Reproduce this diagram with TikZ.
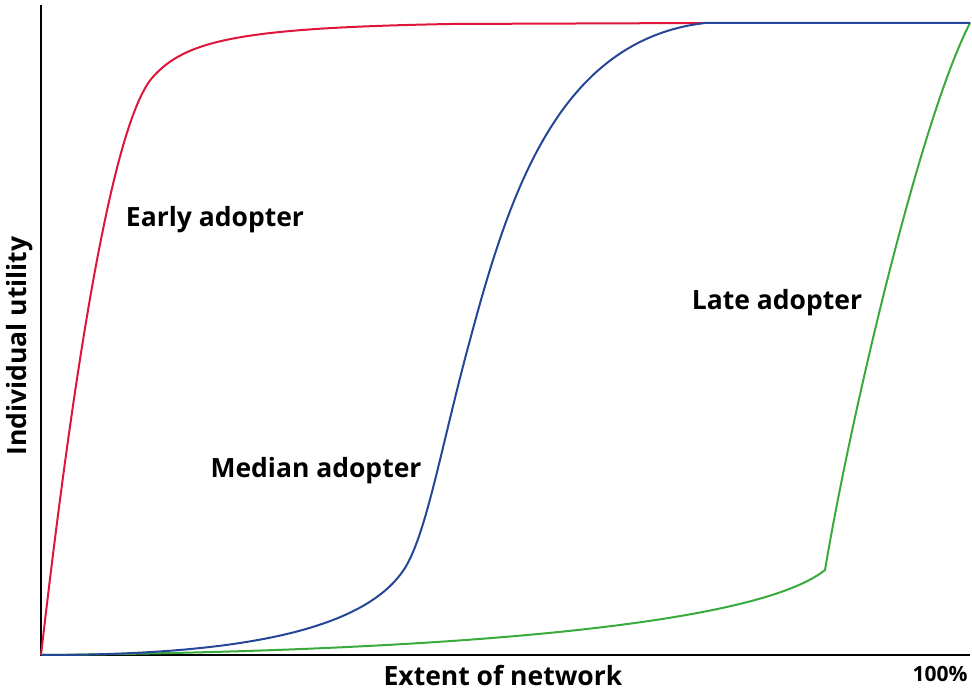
\documentclass[tikz,border=0pt]{standalone}
\usepackage{fontspec}
\setmainfont{Open Sans}
\usepackage{tikz}
\usetikzlibrary{positioning}
\definecolor{earlyred}{RGB}{222,22,58}
\definecolor{medblue}{RGB}{38,70,152}
\definecolor{lategreen}{RGB}{58,170,60}

\begin{document}
\begin{tikzpicture}[x=1pt, y=1pt,
	lbl/.style={font=\bfseries\fontsize{26.5}{30}\selectfont, inner sep=0pt},
	curve/.style={line width=2pt}]
				\useasboundingbox (0,0) rectangle (972,691);
				\coordinate (o) at (41,36);
				\coordinate (ytop) at (41,686);
				\coordinate (xend) at (970,36);
				% axes
				\draw [line width=2.5pt] (ytop) -- (o) -- (xend);
				% curves
				\draw [curve] [draw=earlyred] (o) .. controls (68,271) and (108,561) .. (152,613)
					.. controls (185,651) and (240,663) .. (450,667) -- (705,668);
				\draw [curve] [draw=lategreen] (o) .. controls (400,39) and (750,61) .. (825,121)
					.. controls (850,271) and (920,571) .. (970,668);
				\draw [curve] [draw=medblue] (o) .. controls (200,36) and (350,51) .. (400,116)
					.. controls (425,146) and (440,241) .. (470,351)
					.. controls (510,501) and (560,651) .. (705,668) -- (970,668);
				% labels
				\node [lbl] (early) at (215,471) {Early adopter};
				\node [lbl] (median) at (316,220) {Median adopter};
				\node [lbl] (late) at (777,388) {Late adopter};
				\node [lbl] (xlab) at (503,16) {Extent of network};
				\node [lbl, font=\bfseries\fontsize{21}{24}\selectfont] (full) at (940,17) {100\%};
				\node [lbl, rotate=90] (ylab) at (20,345) {Individual utility};
				\end{tikzpicture}
\end{document}
